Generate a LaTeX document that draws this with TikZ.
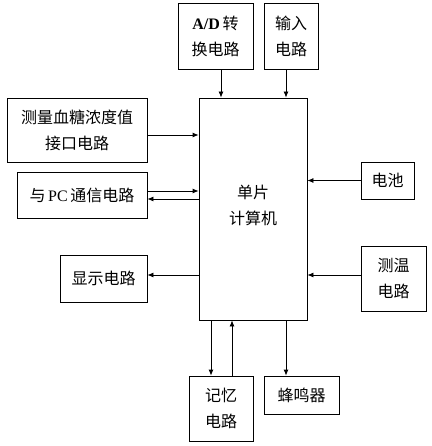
\documentclass[tikz,border=0pt]{standalone}
\usepackage{fontspec}
\setmainfont{Liberation Serif}
\newfontfamily\cjk{Noto Sans CJK SC}
\usetikzlibrary{arrows.meta}
\newcommand{\lat}[1]{{\fontspec{Liberation Serif}\bfseries #1}}
\begin{document}
\begin{tikzpicture}[x=1pt,y=-1pt,
  blk/.style={draw,line width=0.8pt,rectangle,inner sep=0pt,align=center,
    font=\cjk\fontsize{16}{26}\selectfont},
  arr/.style={line width=0.8pt,-{Latex[length=6pt,width=5pt]}}]
\useasboundingbox (0,0) rectangle (431,446);
% blocks
\node[blk,minimum width=75pt,minimum height=66pt] (ad) at (215.5,36) {\lat{A/D}\,转\\换电路};
\node[blk,minimum width=54pt,minimum height=66pt] (inp) at (291,36) {输入\\电路};
\node[blk,minimum width=108pt,minimum height=222pt] (mcu) at (253,209) {};
\node[font=\cjk\fontsize{16}{26}\selectfont,align=center] (mcutxt) at (253,205) {单片\\计算机};
\node[blk,minimum width=140pt,minimum height=64pt] (glu) at (77,130) {测量血糖浓度值\\接口电路};
\node[blk,minimum width=130pt,minimum height=46pt] (pc) at (82,195) {与\,\lat{\mdseries PC}\,通信电路};
\node[blk,minimum width=53pt,minimum height=37pt] (bat) at (387.5,180.5) {电池};
\node[blk,minimum width=87pt,minimum height=47pt] (disp) at (103.5,278.5) {显示电路};
\node[blk,minimum width=65pt,minimum height=65pt] (temp) at (393.5,278.5) {测温\\电路};
\node[blk,minimum width=64pt,minimum height=65pt] (mem) at (221,408.5) {记忆\\电路};
\node[blk,minimum width=75pt,minimum height=38pt] (buz) at (301.5,395) {蜂鸣器};
% connectors
\draw[arr] ([xshift=5.5pt]ad.south) -- ([xshift=5.5pt]ad.south |- mcu.north);
\draw[arr] ([xshift=-5pt]inp.south) -- ([xshift=-5pt]inp.south |- mcu.north);
\draw[arr] ([yshift=-5pt]glu.east) -- ([yshift=-5pt]glu.east -| mcu.west);
\draw[arr] ([yshift=4pt]pc.east) -- ([yshift=4pt]pc.east -| mcu.west);
\draw[arr] ([yshift=-4pt]pc.east -| mcu.west) -- ([yshift=-4pt]pc.east);
\draw[arr] (bat.west) -- (bat.west -| mcu.east);
\draw[arr] ([yshift=3.5pt]disp.east -| mcu.west) -- ([yshift=3.5pt]disp.east);
\draw[arr] ([yshift=3.5pt]temp.west) -- ([yshift=3.5pt]temp.west -| mcu.east);
\draw[arr] ([xshift=-10pt]mem.north |- mcu.south) -- ([xshift=-10pt]mem.north);
\draw[arr] ([xshift=11pt]mem.north) -- ([xshift=11pt]mem.north |- mcu.south);
\draw[arr] ([xshift=-15.5pt]buz.north |- mcu.south) -- ([xshift=-15.5pt]buz.north);
\end{tikzpicture}
\end{document}
